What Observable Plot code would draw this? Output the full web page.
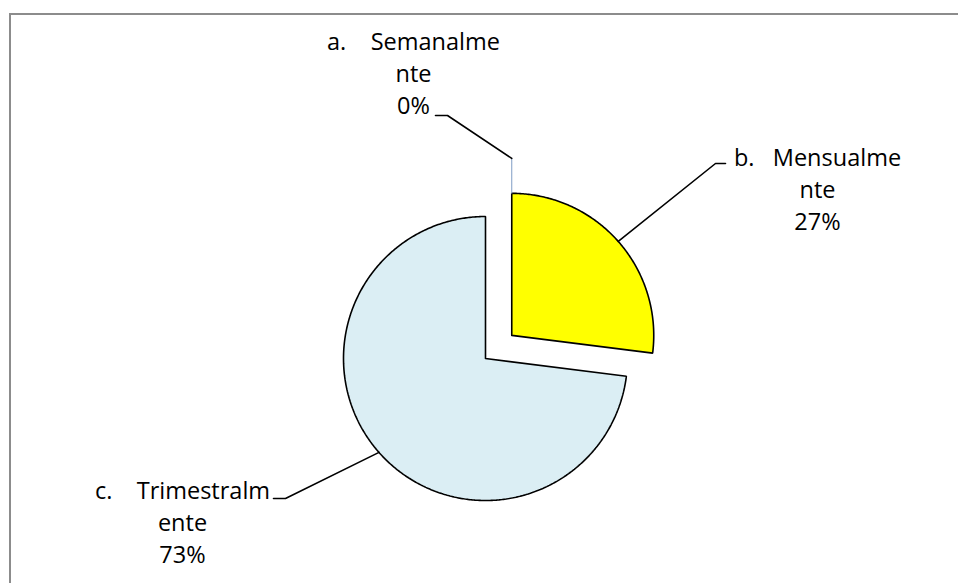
<!DOCTYPE html>
<html><head><meta charset="utf-8">
<script src="https://cdn.jsdelivr.net/npm/d3@7"></script>
<script src="https://cdn.jsdelivr.net/npm/@observablehq/plot@0.6"></script>
<style>
html,body{margin:0;padding:0;background:#fff;overflow:hidden}
#wrap{position:relative;width:958px;height:583px}
#frame{position:absolute;left:9px;top:13px;width:960px;height:600px;border:2px solid #8c8c8c;box-sizing:border-box}
#chart{position:absolute;left:0;top:0}
</style></head>
<body><div id="wrap"><div id="frame"></div><div id="chart"></div></div>
<script>
// ---- data ----
const prefixes = ["a.", "b.", "c."];
const words = ["Semanalme", "Mensualme", "Trimestralm"];
const wordTails = ["nte", "nte", "ente"];
const values = [0, 27, 73];
const sliceColors = ["#dbeef4", "#ffff00", "#dbeef4"];

// ---- layout ----
const W = 958, H = 583;
const center = [485, 358], R = 142, explode = [0, 35, 0];
const font = "'Open Sans', sans-serif", fontSize = 23.5, lineStep = 32;
const labelPos = [[413, 49], [817, 165], [182, 498]];       // center x, first baseline
const prefixGap = [4, 3, 4];
const leaderStart = [[435, 115], [725, 163], [273, 498]];
const leaderElbow = [[447, 115], [715, 163], [285, 498]];

const total = d3.sum(values);
const pie = d3.pie().sort(null).value(d => d)(values);
const pt = (c, r, a) => [c[0] + r * Math.sin(a), c[1] - r * Math.cos(a)];

const slices = [], leaders = [], blue = [];
pie.forEach((p, i) => {
  const mid = (p.startAngle + p.endAngle) / 2;
  const c = pt(center, explode[i], mid);
  if (p.value > 0) {
    const n = Math.max(8, Math.ceil((p.endAngle - p.startAngle) / 0.01));
    slices.push({k: i, x: c[0], y: c[1]});
    for (let j = 0; j <= n; j++) {
      const a = p.startAngle + (p.endAngle - p.startAngle) * j / n;
      const q = pt(c, R, a);
      slices.push({k: i, x: q[0], y: q[1]});
    }
    slices.push({k: i, x: c[0], y: c[1]});
    const e = pt(c, R, mid);
    leaders.push({k: i, x: leaderStart[i][0], y: leaderStart[i][1]},
                 {k: i, x: leaderElbow[i][0], y: leaderElbow[i][1]},
                 {k: i, x: e[0], y: e[1]});
  }
});
// zero slice: thin outline at its angle, touching the next exploded slice
pie.forEach((p, i) => {
  if (p.value === 0) {
    const nxt = pie[(i + 1) % pie.length];
    const nmid = (nxt.startAngle + nxt.endAngle) / 2;
    const nc = pt(center, explode[(i + 1) % pie.length], nmid);
    const inner = pt(nc, R, p.startAngle);
    const outer = pt(nc, R + 35, p.startAngle);
    blue.push({x: inner[0], y: inner[1]}, {x: outer[0], y: outer[1]});
    leaders.push({k: i, x: leaderStart[i][0], y: leaderStart[i][1]},
                 {k: i, x: leaderElbow[i][0], y: leaderElbow[i][1]},
                 {k: i, x: outer[0], y: outer[1]});
  }
});

const texts = [];
values.forEach((v, i) => {
  const pct = Math.round(v / total * 100) + "%";
  const lines = [prefixes[i] + "\u00a0".repeat(prefixGap[i]) + words[i], wordTails[i], pct];
  lines.forEach((t, j) => texts.push({t, x: labelPos[i][0], y: labelPos[i][1] + j * lineStep}));
});

const chart = Plot.plot({
  width: W, height: H, margin: 0,
  x: {domain: [0, W], axis: null},
  y: {domain: [0, H], reverse: true, axis: null},
  style: {background: "transparent", fontFamily: font},
  marks: [
    Plot.line(slices, {x: "x", y: "y", z: "k", fill: d => sliceColors[d.k], stroke: "#000", strokeWidth: 1.6, strokeLinejoin: "miter"}),
    Plot.line(blue, {x: "x", y: "y", stroke: "#7f9cc4", strokeWidth: 1}),
    Plot.line(leaders, {x: "x", y: "y", z: "k", stroke: "#000", strokeWidth: 1.6}),
    Plot.text(texts, {x: "x", y: "y", text: "t", textAnchor: "middle", lineAnchor: "bottom", fontSize: fontSize, fill: "#000"})
  ]
});
chart.setAttribute("font-family", font);
document.getElementById("chart").appendChild(chart);
</script></body></html>
